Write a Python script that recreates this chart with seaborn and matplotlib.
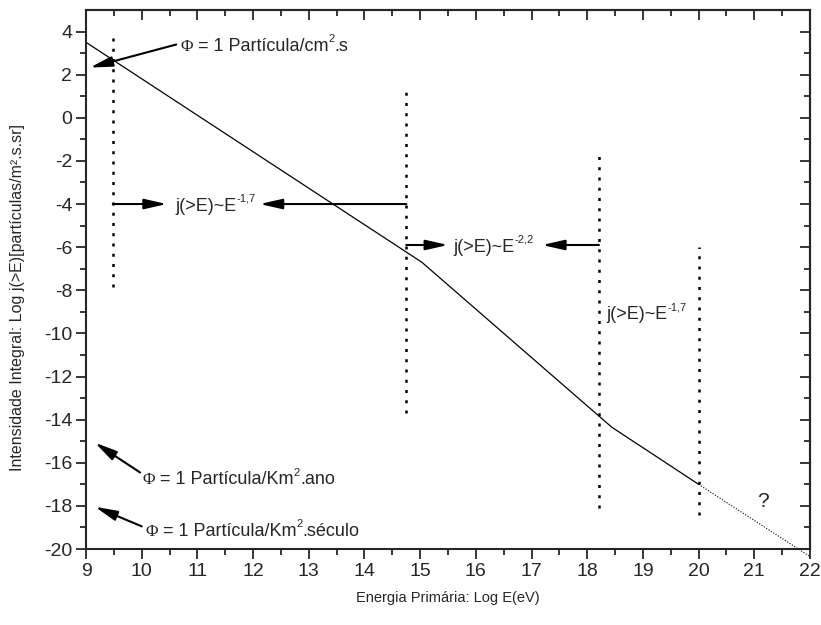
import matplotlib
matplotlib.use("Agg")
import matplotlib.pyplot as plt
import matplotlib.transforms as mtransforms
import seaborn as sns
import pandas as pd
import numpy as np

# ---- data ----
line_x = [9.0, 15.03, 18.44, 20.0]
line_y = [3.5, -6.7, -14.35, -17.0]
ext_x = [20.0, 22.0]
ext_y = [-17.0, -20.35]

vline_x = [9.48, 14.75, 18.21, 20.0]
vline_top = [3.95, 1.3, -1.7, -6.0]
vline_bot = [-7.85, -13.7, -18.1, -18.4]

sns.set_style("ticks")
plt.rcParams['font.family'] = ['Liberation Sans', 'DejaVu Sans']
plt.rcParams['axes.unicode_minus'] = False

fig = plt.figure(figsize=(8.21, 6.25), dpi=100)
ax = fig.add_axes([0.1048, 0.1216, 0.8818, 0.8624])

df = pd.DataFrame({"x": line_x, "y": line_y})
sns.lineplot(data=df, x="x", y="y", ax=ax, color="black", lw=0.9, sort=False)
dfe = pd.DataFrame({"x": ext_x, "y": ext_y})
sns.lineplot(data=dfe, x="x", y="y", ax=ax, color="black", lw=0.8,
             linestyle=(0, (1, 1.5)), sort=False, clip_on=False)

for xv, yt, yb in zip(vline_x, vline_top, vline_bot):
    ax.plot([xv, xv], [yb, yt], color="black", lw=1.8, linestyle=(0, (1.2, 2.9)))

ax.set_xlim(9, 22)
ax.set_ylim(-20, 5)
ax.set_xticks(np.arange(9, 23, 1))
ax.set_yticks(np.arange(-20, 5, 2))
ax.set_xticks(np.arange(9, 22.01, 0.5), minor=True)
ax.set_yticks(np.arange(-20, 5, 1), minor=True)
ax.tick_params(which='major', direction='out', length=7, width=1.3, labelsize=14, pad=3)
ax.tick_params(which='minor', direction='out', length=4.5, width=1.3)
for s in ax.spines.values():
    s.set_linewidth(1.5)
    s.set_visible(True)

top = ax.secondary_xaxis('top')
top.set_xticks(np.arange(9, 23, 1))
top.set_xticks(np.arange(9, 22.01, 0.5), minor=True)
top.tick_params(which='major', direction='in', length=7, width=1.3, labeltop=False)
top.tick_params(which='minor', direction='in', length=4.5, width=1.3)
top.spines['top'].set_linewidth(1.5)
right = ax.secondary_yaxis('right')
right.set_yticks(np.arange(-20, 5, 2))
right.set_yticks(np.arange(-20, 5, 1), minor=True)
right.tick_params(which='major', direction='in', length=7, width=1.3, labelright=False)
right.tick_params(which='minor', direction='in', length=4.5, width=1.3)
right.spines['right'].set_linewidth(1.5)

ax.set_xlabel("Energia Primária: Log E(eV)", fontsize=10.5, labelpad=8)
ax.set_ylabel("Intensidade Integral: Log j(>E)[partículas/m².s.sr]", fontsize=11.5)
ax.yaxis.set_label_coords(-0.084, 0.467)

renderer = fig.canvas.get_renderer()


def rich(x, y, pieces, size=13):
    """Draw text pieces in sequence: kind 'n' normal, 's' superscript, 'p' serif symbol."""
    xoff = 0.0
    base = -0.36 * size
    for s, kind in pieces:
        if kind == 's':
            fs, dy, fam = size * 0.62, base + size * 0.48, ['Liberation Sans']
        elif kind == 'p':
            fs, dy, fam = size * 0.95, base, ['Liberation Serif']
        else:
            fs, dy, fam = size, base, ['Liberation Sans']
        tr = mtransforms.offset_copy(ax.transData, fig=fig, x=xoff, y=dy, units='points')
        t = ax.text(x, y, s, transform=tr, fontsize=fs, family=fam,
                    ha='left', va='baseline')
        bb = t.get_window_extent(renderer)
        xoff += bb.width * 72.0 / fig.dpi


arrow = dict(arrowstyle="-|>,head_length=0.75,head_width=0.17", lw=1.5, color="black",
             mutation_scale=18, shrinkA=0, shrinkB=0)

# flux annotations
ax.annotate("", xy=(9.07, 2.33), xytext=(10.62, 3.4), arrowprops=arrow)
rich(10.69, 3.4, [("Φ", 'p'), (" = 1 Partícula/cm", 'n'), ("2", 's'), (".s", 'n')])
ax.annotate("", xy=(9.16, -15.07), xytext=(9.97, -16.45), arrowprops=arrow)
rich(10.02, -16.7, [("Φ", 'p'), (" = 1 Partícula/Km", 'n'), ("2", 's'), (".ano", 'n')])
ax.annotate("", xy=(9.16, -18.04), xytext=(10.0, -18.95), arrowprops=arrow)
rich(10.06, -19.1, [("Φ", 'p'), (" = 1 Partícula/Km", 'n'), ("2", 's'), (".século", 'n')])

# spectral index annotations
ax.annotate("", xy=(10.45, -4.0), xytext=(9.48, -4.0), arrowprops=arrow)
ax.annotate("", xy=(12.12, -4.0), xytext=(14.75, -4.0), arrowprops=arrow)
rich(10.6, -4.0, [("j(>E)~E", 'n'), ("-1,7", 's')])

ax.annotate("", xy=(15.5, -5.9), xytext=(14.75, -5.9), arrowprops=arrow)
ax.annotate("", xy=(17.19, -5.9), xytext=(18.21, -5.9), arrowprops=arrow)
rich(15.59, -5.9, [("j(>E)~E", 'n'), ("-2,2", 's')])

rich(18.35, -9.05, [("j(>E)~E", 'n'), ("-1,7", 's')])
ax.text(21.15, -17.8, "?", fontsize=15, va="center", ha="center")

fig.savefig("out.png", dpi=100)
